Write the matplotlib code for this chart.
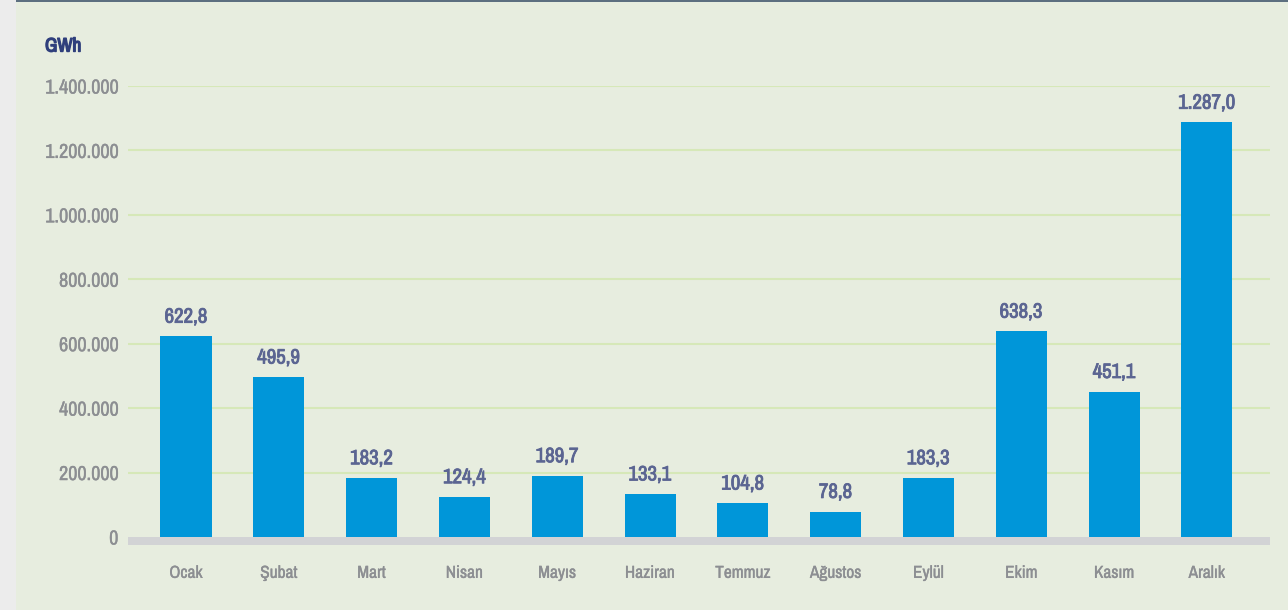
import matplotlib
matplotlib.use("Agg")
import matplotlib.pyplot as plt
import matplotlib.patches as mpatches
import matplotlib.patheffects as pe
from matplotlib import font_manager

# ── Datos ──────────────────────────────
months = ["Ocak", "Şubat", "Mart", "Nisan", "Mayıs", "Haziran",
          "Temmuz", "Ağustos", "Eylül", "Ekim", "Kasım", "Aralık"]
values = [622.8, 495.9, 183.2, 124.4, 189.7, 133.1,
          104.8, 78.8, 183.3, 638.3, 451.1, 1287.0]
value_labels = ["622,8", "495,9", "183,2", "124,4", "189,7", "133,1",
                "104,8", "78,8", "183,3", "638,3", "451,1", "1.287,0"]
yticks = [0, 200000, 400000, 600000, 800000, 1000000, 1200000, 1400000]
ytick_labels = ["0", "200.000", "400.000", "600.000", "800.000",
                "1.000.000", "1.200.000", "1.400.000"]

BG = "#e7eddf"
BAR = "#0096d9"
GRID = "#d6e8b8"
TICK = "#8c8e92"
LABEL = "#5b6592"
TITLE = "#2f3f7c"

# buscar una fuente estrecha si existe
fam = "DejaVu Sans"
for f in font_manager.fontManager.ttflist:
    if "Narrow" in f.name or "Condensed" in f.name:
        fam = f.name
        break
plt.rcParams["font.family"] = [fam, "DejaVu Sans"]


def negrita(color, w):
    return [pe.withStroke(linewidth=w, foreground=color)]


fig = plt.figure(figsize=(12.88, 6.10), dpi=100)
fig.patch.set_facecolor(BG)
# franja gris izquierda y línea superior
fig.add_artist(mpatches.Rectangle((0, 0), 16 / 1288, 1, transform=fig.transFigure,
                                  facecolor="#ececec", edgecolor="none"))
fig.add_artist(mpatches.Rectangle((16 / 1288, 1 - 2 / 610), 1, 2 / 610,
                                  transform=fig.transFigure,
                                  facecolor="#5d6f80", edgecolor="none"))

ax = fig.add_axes([128 / 1288, 65 / 610, 1142 / 1288, 459 / 610])
ax.set_facecolor("none")

x = list(range(len(months)))
heights = [v * 1000 for v in values]
ax.bar(x, heights, width=0.55, color=BAR, zorder=3)

ax.set_xlim(-0.625, 11.68)
ax.set_ylim(-25000, 1400000)
ax.axhspan(-25000, 0, color="#d2d3d5", zorder=2, lw=0)

for yt in yticks[1:]:
    ax.axhline(yt, color=GRID, lw=1.5, zorder=1)

ax.set_yticks(yticks)
ax.set_yticklabels(ytick_labels)
ax.set_xticks(x)
ax.set_xticklabels(months)
ax.tick_params(axis="y", length=0, pad=7, labelsize=14.5, colors=TICK)
ax.tick_params(axis="x", length=0, pad=15, labelsize=12.5, colors=TICK)
for lbl in ax.get_yticklabels() + ax.get_xticklabels():
    lbl.set_path_effects(negrita(TICK, 0.25))
for s in ax.spines.values():
    s.set_visible(False)

for xi, h, lab in zip(x, heights, value_labels):
    ax.text(xi, h + 30000, lab, ha="center", va="bottom", fontsize=15,
            color=LABEL, zorder=4, path_effects=negrita(LABEL, 0.6))

fig.text(45 / 1288, 1 - 46 / 610, "GWh", ha="left", va="center",
         fontsize=14, fontweight="bold", color=TITLE,
         path_effects=negrita(TITLE, 1.0))

plt.savefig("out.png", dpi=100, facecolor=fig.get_facecolor())
plt.close()
